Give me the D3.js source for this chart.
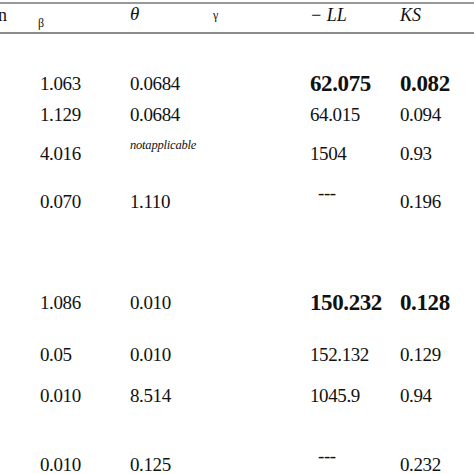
<!DOCTYPE html>
<html>
<head>
<meta charset="utf-8">
<script src="https://cdn.jsdelivr.net/npm/d3@7"></script>
<style>
  body { margin: 0; background: #fff; }
  text { font-family: "Liberation Serif", serif; fill: #111; }
</style>
</head>
<body>
<div id="chart"></div>
<script>
const width = 474;
const height = 474;

const columns = ["beta", "theta", "gamma", "ll", "ks"];
const rowIds = ["r1", "r2", "r3", "r4", "r5", "r6", "r7", "r8"];
const betaValues = ["1.063", "1.129", "4.016", "0.070", "1.086", "0.05", "0.010", "0.010"];
const thetaValues = ["0.0684", "0.0684", "notapplicable", "1.110", "0.010", "0.010", "8.514", "0.125"];
const llValues = ["62.075", "64.015", "1504", "---", "150.232", "152.132", "1045.9", "---"];
const ksValues = ["0.082", "0.094", "0.93", "0.196", "0.128", "0.129", "0.94", "0.232"];
const boldRows = ["r1", "r5"];

const xScale = d3.scaleOrdinal().domain(columns).range([40, 130, 213, 310, 400]);
const yScale = d3.scaleOrdinal().domain(rowIds).range([90, 121, 160, 208, 309, 361, 402, 471]);

const svg = d3.select("#chart").append("svg")
  .attr("width", width).attr("height", height);

svg.append("line").attr("x1", 0).attr("x2", width).attr("y1", 3).attr("y2", 3)
  .attr("stroke", "#777").attr("stroke-width", 1.5);
svg.append("line").attr("x1", 0).attr("x2", width).attr("y1", 33).attr("y2", 33)
  .attr("stroke", "#666").attr("stroke-width", 1.5);

// header
svg.append("text").attr("x", -2).attr("y", 21).style("font-size", "18px").text("n");
svg.append("text").attr("x", xScale("beta") - 2).attr("y", 27).style("font-size", "12px").text("β");
svg.append("text").attr("x", xScale("theta")).attr("y", 20).style("font-size", "19px")
  .style("font-style", "italic").text("θ");
svg.append("text").attr("x", xScale("gamma")).attr("y", 19).style("font-size", "12px").text("γ");
svg.append("text").attr("x", xScale("ll")).attr("y", 21).style("font-size", "18px")
  .style("font-style", "italic").text("− LL");
svg.append("text").attr("x", xScale("ks")).attr("y", 21).style("font-size", "18px")
  .style("font-style", "italic").text("KS");

const cells = [];
rowIds.forEach((r, i) => {
  cells.push({ row: r, col: "beta", text: betaValues[i] });
  cells.push({ row: r, col: "theta", text: thetaValues[i] });
  cells.push({ row: r, col: "ll", text: llValues[i] });
  cells.push({ row: r, col: "ks", text: ksValues[i] });
});

const isBold = (d) => boldRows.includes(d.row) && (d.col === "ll" || d.col === "ks");

svg.append("g").selectAll("text")
  .data(cells)
  .join("text")
  .attr("x", (d) => xScale(d.col) + (d.text === "---" ? 8 : 0))
  .attr("y", (d) => {
    if (d.text === "notapplicable") return yScale(d.row) - 11;
    if (d.text === "---") return yScale(d.row) - 9;
    return yScale(d.row) + (isBold(d) ? 1 : 0);
  })
  .style("font-size", (d) => {
    if (d.text === "notapplicable") return "12.5px";
    return isBold(d) ? "23px" : "19px";
  })
  .style("font-weight", (d) => (isBold(d) ? "bold" : "normal"))
  .style("font-style", (d) => (d.text === "notapplicable" ? "italic" : "normal"))
  .style("letter-spacing", (d) => (d.text === "notapplicable" ? "-0.2px" : "-0.4px"))
  .text((d) => d.text);
</script>
</body>
</html>
